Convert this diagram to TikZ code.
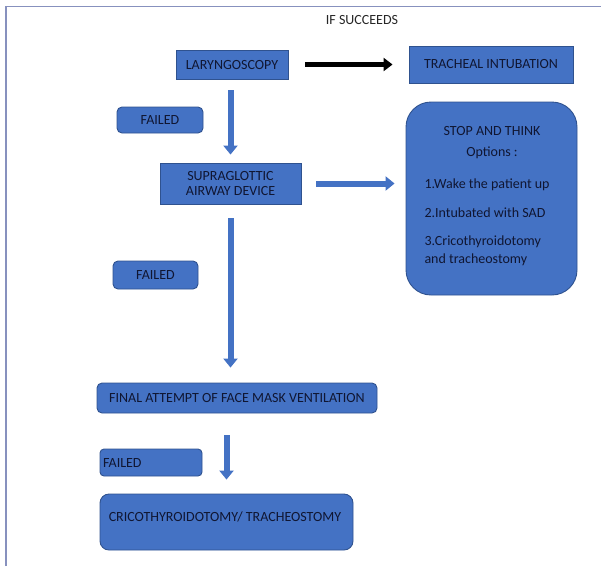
\documentclass[tikz,border=0pt]{standalone}
\usepackage{fontspec}
\setmainfont{Carlito}
\usepackage{tikz}
\usetikzlibrary{arrows.meta,positioning,calc}
\definecolor{boxblue}{RGB}{68, 114, 196}
\definecolor{edgeblue}{RGB}{47, 82, 143}
\definecolor{inknavy}{RGB}{16, 22, 50}
\definecolor{framegray}{RGB}{135, 145, 190}

\begin{document}
\begin{tikzpicture}[x=1pt,y=-1pt,
    txt/.style={font=\fontsize{14}{16.5}\selectfont,text=inknavy},
    squarebox/.style={txt,draw=edgeblue,line width=0.9pt,fill=boxblue,inner sep=2pt},
    roundbox/.style={squarebox,rounded corners=5pt},
    bluearrow/.style={boxblue,line width=6pt,-{Triangle[width=14pt,length=9pt]}},
    blackarrow/.style={black,line width=5pt,-{Triangle[width=13pt,length=9pt]}}]
    \useasboundingbox (0,0) rectangle (601,566);

    % page frame
    \draw[framegray,line width=1.2pt] (6,566) -- (6,6.5) -- (601,6.5);

    % top row
    \node[txt,text=black!85] (succeeds) at (362,20) {IF SUCCEEDS};
    \node[squarebox,minimum width=112pt,minimum height=29pt] (laryng) at (232,64.5) {LARYNGOSCOPY};
    \node[squarebox,minimum width=164pt,minimum height=37pt] (trach) at (491,64.5) {TRACHEAL INTUBATION};

    % supraglottic device and options
    \node[roundbox,minimum width=86pt,minimum height=26pt] (failA) at (160,120) {FAILED};
    \node[squarebox,minimum width=141pt,minimum height=41pt,align=center] (sad) at (230.5,183.5) {SUPRAGLOTTIC\\[-2pt]AIRWAY DEVICE};
    \node[squarebox,rounded corners=25pt,minimum width=171pt,minimum height=193pt] (stop) at (491.5,198.5) {};
    \node[txt] (stophead) at (492,131) {STOP AND THINK};
    \node[txt] (options) at (492,153) {Options :};
    \node[txt,anchor=west] (optA) at (421,185) {1.Wake the patient up};
    \node[txt,anchor=west] (optB) at (421,213) {2.Intubated with SAD};
    \node[txt,anchor=west,align=left] (optC) at (421,251) {3.Cricothyroidotomy\\[1pt]and tracheostomy};

    % lower part
    \node[roundbox,minimum width=85pt,minimum height=28pt] (failB) at (155.5,275) {FAILED};
    \node[roundbox,minimum width=280pt,minimum height=30pt] (final) at (237,398) {FINAL ATTEMPT OF FACE MASK VENTILATION};
    \node[roundbox,rounded corners=4pt,minimum width=102pt,minimum height=27pt,text width=96pt,align=left] (failC) at (151,462.5) {FAILED};
    \node[roundbox,rounded corners=9pt,minimum width=253pt,minimum height=56pt] (cric) at (226.5,522) {};
    \node[txt] (crictext) at (225,517) {CRICOTHYROIDOTOMY/ TRACHEOSTOMY};

    % connectors
    \draw[blackarrow,shorten <=17pt,shorten >=16pt] (laryng.east) -- (trach.west);
    \draw[bluearrow,shorten <=11pt,shorten >=8pt] (laryng.south -| sad.north) -- (sad.north);
    \draw[bluearrow,shorten <=15pt,shorten >=11pt] (sad.east) -- (sad.east -| stop.west);
    \draw[bluearrow,shorten <=14pt,shorten >=15pt] (sad.south) -- (sad.south |- final.north);
    \draw[bluearrow,shorten <=22pt,shorten >=14pt] (final.south -| cric.north) -- (cric.north);
\end{tikzpicture}
\end{document}
